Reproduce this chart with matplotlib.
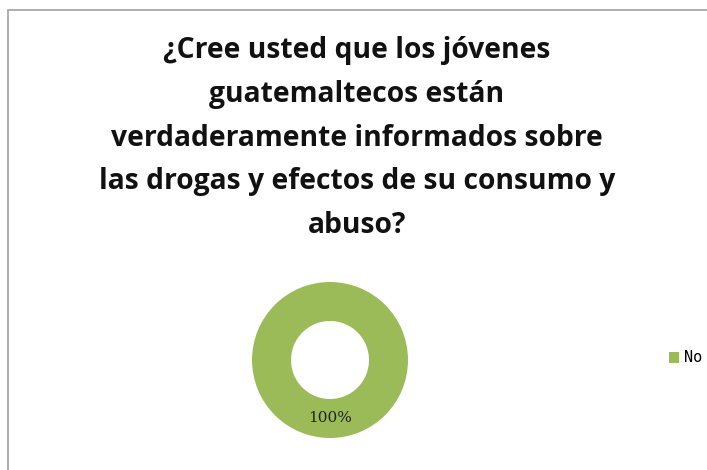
import matplotlib.pyplot as plt
from matplotlib.patches import Rectangle

labels = ["No"]
values = [100]
title = ("¿Cree usted que los jóvenes\nguatemaltecos están\nverdaderamente informados sobre\n"
         "las drogas y efectos de su consumo y\nabuso?")
color = "#9BBB59"

W, H = 707, 470
fig = plt.figure(figsize=(W / 100, H / 100), dpi=100)

# chart border
fig.patches.append(Rectangle((8 / W, -0.05), 1.1, (H - 10) / H + 0.05, transform=fig.transFigure,
                             fill=False, edgecolor="#a0a0a0", linewidth=1.2))

fig.text(357 / W, 1 - 138 / H, title, ha="center", va="center", fontsize=20.3,
         fontweight="bold", family="Open Sans", linespacing=1.66, color="#111111")

ax = fig.add_axes([(330 - 78) / W, 1 - (360 + 78) / H, 156 / W, 156 / H])
wedges, _ = ax.pie(values, colors=[color], radius=1, startangle=90,
                   wedgeprops=dict(width=0.5, edgecolor="none"))
ax.set_xlim(-1, 1)
ax.set_ylim(-1, 1)
ax.set_aspect("equal")
ax.text(0, -0.75, "%d%%" % values[0], ha="center", va="center", fontsize=11,
        family="DejaVu Serif", color="#222222")

fig.legend(wedges, labels, loc="center left", bbox_to_anchor=(655 / W, 1 - 358 / H),
           frameon=False, handlelength=0.7, handleheight=0.7, handletextpad=0.3,
           prop=dict(family="DejaVu Sans Mono", size=11))

fig.savefig("out.png", dpi=100)
